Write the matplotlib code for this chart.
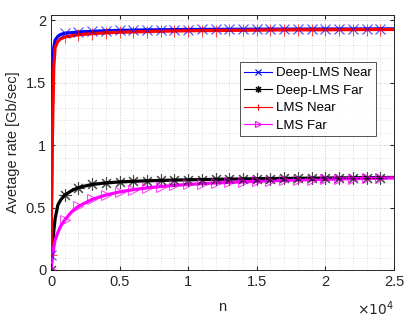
import numpy as np
import matplotlib.pyplot as plt
from matplotlib.lines import Line2D

plt.rcParams['font.family'] = ['Liberation Sans', 'DejaVu Sans']

# sample positions (iterations)
n = [0, 100, 200, 300, 500, 700, 1000, 1500, 2000, 3000, 4000, 5000, 6000, 7000,
     8000, 9000, 10000, 12000, 14000, 16000, 18000, 20000, 22000, 24000, 25000]

deep_near = [0.12, 1.30, 1.78, 1.84, 1.87, 1.885, 1.895, 1.90, 1.905, 1.91, 1.915, 1.918, 1.92, 1.922,
             1.923, 1.924, 1.925, 1.926, 1.927, 1.928, 1.928, 1.929, 1.929, 1.93, 1.93]
lms_near = [0.12, 1.05, 1.62, 1.78, 1.83, 1.85, 1.865, 1.875, 1.883, 1.892, 1.898, 1.903, 1.906, 1.909,
            1.911, 1.913, 1.915, 1.917, 1.919, 1.921, 1.922, 1.923, 1.924, 1.925, 1.925]
deep_far = [0.0, 0.16, 0.31, 0.41, 0.52, 0.56, 0.60, 0.635, 0.66, 0.685, 0.697, 0.705, 0.71, 0.714,
            0.717, 0.72, 0.722, 0.726, 0.729, 0.732, 0.734, 0.736, 0.738, 0.74, 0.741]
lms_far = [0.0, 0.10, 0.18, 0.24, 0.30, 0.35, 0.40, 0.465, 0.51, 0.565, 0.60, 0.625, 0.643, 0.657,
           0.668, 0.677, 0.685, 0.697, 0.706, 0.714, 0.72, 0.726, 0.731, 0.735, 0.737]

# markers every 1000 iterations
n_mark = list(range(0, 24001, 1000))


def marks(y):
    return np.interp(n_mark, n, y)


series = [
    ("Deep-LMS Near", deep_near, "#0000ff", "x", 7),
    ("Deep-LMS Far", deep_far, "#000000", (8, 2, 0), 9),
    ("LMS Near", lms_near, "#ff0000", "+", 9),
    ("LMS Far", lms_far, "#ff00ff", ">", 7),
]

fig = plt.figure(figsize=(4.16, 3.22), dpi=100)
ax = fig.add_axes([0.1226, 0.1615, 0.8244, 0.7915])

handles = []
for label, y, c, m, ms in series:
    ax.plot(n, y, color=c, lw=2.3, zorder=3, solid_capstyle='butt')
    ax.plot(n_mark, marks(y), ls='none', marker=m, ms=ms, mec=c, mfc='none',
            mew=0.8, zorder=4, alpha=0.7)
    handles.append(Line2D([], [], color=c, lw=0.8, marker=m, ms=5, mec=c,
                          mfc='none', mew=0.8, label=label))

ax.set_xlim(0, 25000)
ax.set_ylim(0, 2.04)
ax.set_xticks(np.arange(0, 25001, 5000))
ax.set_xticklabels(["0", "0.5", "1", "1.5", "2", "2.5"])
ax.set_yticks([0, 0.5, 1, 1.5, 2])
ax.set_yticklabels(["0", "0.5", "1", "1.5", "2"])
ax.set_xticks(np.arange(0, 25001, 1000), minor=True)
ax.set_yticks(np.arange(0, 2.04, 0.1), minor=True)
ax.grid(True, which='major', ls=':', color='#c8c8c8', lw=0.7)
ax.grid(True, which='minor', ls=':', color='#d8d8d8', lw=0.6)
ax.set_axisbelow(True)
ax.tick_params(which='major', direction='in', length=3, top=True, right=True,
               labelsize=10.5, color='#262626', labelcolor='#262626')
ax.tick_params(which='minor', length=0)
for s in ax.spines.values():
    s.set_color('#262626')
    s.set_linewidth(0.7)

ax.set_xlabel("n", fontsize=10.5, color='#262626', labelpad=8)
ax.set_ylabel("Avetage rate [Gb/sec]", fontsize=10.5, color='#262626')
ax.text(1.0, -0.115, r"$\times10^{4}$", transform=ax.transAxes, ha='right', va='top',
        fontsize=10, color='#262626')

leg = ax.legend(handles=handles, loc='upper left', bbox_to_anchor=(0.55, 0.815),
                fontsize=9.5, frameon=True, fancybox=False, edgecolor='#262626',
                handlelength=2.1, handletextpad=0.3, borderpad=0.35, labelspacing=0.4,
                borderaxespad=0)
leg.get_frame().set_linewidth(0.7)

fig.savefig("out.png", dpi=100)
